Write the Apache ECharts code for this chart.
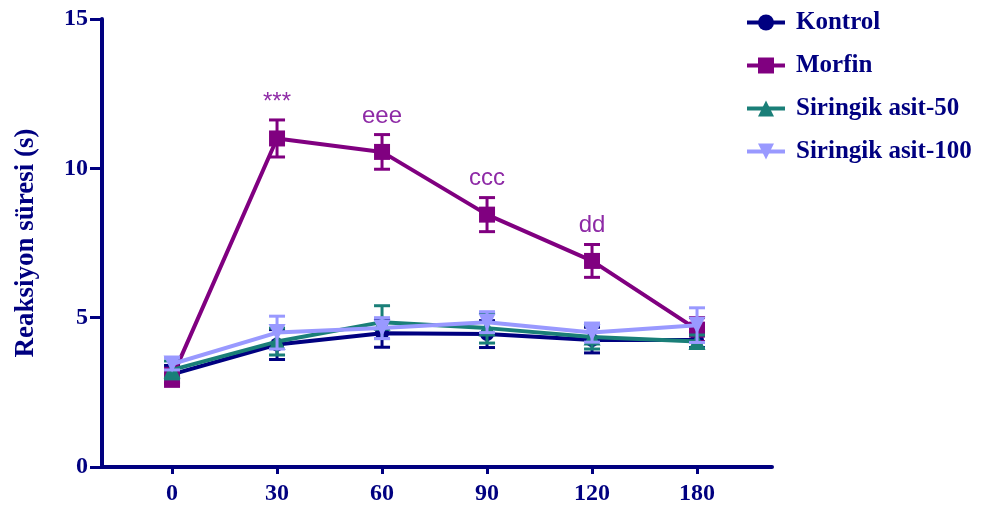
<!DOCTYPE html>
<html><head><meta charset="utf-8">
<script src="https://cdn.jsdelivr.net/npm/echarts@6/dist/echarts.min.js"></script>
<style>html,body{margin:0;padding:0;background:#fff}#c{width:981px;height:513px}</style>
</head><body><div id="c"></div>
<script>
const categories = ['0', '30', '60', '90', '120', '180'];
const seriesNames = ['Kontrol', 'Morfin', 'Siringik asit-50', 'Siringik asit-100'];
const kontrol = [3.1, 4.1, 4.48, 4.45, 4.25, 4.25];
const kontrolErr = [0.3, 0.5, 0.47, 0.45, 0.43, 0.25];
const morfin = [3.0, 11.0, 10.55, 8.45, 6.9, 4.6];
const morfinErr = [0.3, 0.62, 0.58, 0.57, 0.55, 0.4];
const sa50 = [3.25, 4.2, 4.85, 4.65, 4.35, 4.2];
const sa50Err = [0.3, 0.45, 0.55, 0.5, 0.4, 0.22];
const sa100 = [3.45, 4.5, 4.65, 4.85, 4.5, 4.75];
const sa100Err = [0.2, 0.55, 0.35, 0.35, 0.32, 0.58];
const morfinMarks = ['', '***', 'eee', 'ccc', 'dd', ''];
const yTicks = [0, 5, 10, 15];

const NAVY = '#000080';
const colors = ['#000080', '#800080', '#1a7f78', '#9999ff'];
const symbols = ['circle', 'rect', 'triangle', 'path://M0,0 L10,0 L5,10 Z'];
const symSizes = [14, 16, 17, 17];
const vals = [kontrol, morfin, sa50, sa100];
const errs = [kontrolErr, morfinErr, sa50Err, sa100Err];
const serif = '"Liberation Serif", "DejaVu Serif", serif';

const chart = echarts.init(document.getElementById('c'));
const series = [];
vals.forEach((v, si) => {
  series.push({
    type: 'custom', name: seriesNames[si] + ' (SEM)', silent: true,
    color: colors[si],
    renderItem: function (params, api) {
      const x = api.value(0), y = api.value(1), e = api.value(2);
      const top = api.coord([x, y + e]);
      const bot = api.coord([x, y - e]);
      const hw = 8;
      const st = { stroke: colors[si], lineWidth: 3 };
      return { type: 'group', children: [
        { type: 'line', shape: { x1: top[0], y1: top[1], x2: bot[0], y2: bot[1] }, style: st },
        { type: 'line', shape: { x1: top[0] - hw, y1: top[1], x2: top[0] + hw, y2: top[1] }, style: st },
        { type: 'line', shape: { x1: bot[0] - hw, y1: bot[1], x2: bot[0] + hw, y2: bot[1] }, style: st }
      ]};
    },
    data: v.map((y, i) => [i, y, errs[si][i]]),
    z: 2 + si * 2
  });
  series.push({
    type: 'line', name: seriesNames[si], color: colors[si],
    data: v.map((y, i) => {
      const d = { value: [i, y] };
      if (si === 1 && morfinMarks[i]) {
        d.label = { show: true, formatter: morfinMarks[i], position: 'top', distance: 16,
          color: '#8e2aa6', fontSize: 24, fontFamily: '"Liberation Sans", Arial, sans-serif' };
      }
      return d;
    }),
    symbol: symbols[si], symbolSize: symSizes[si], showAllSymbol: true,
    lineStyle: { color: colors[si], width: 4 },
    itemStyle: { color: colors[si], opacity: 1 },
    label: { show: false },
    emphasis: { disabled: true },
    z: 3 + si * 2
  });
});

chart.setOption({
  animation: false,
  grid: { left: 102, right: 209, top: 19, bottom: 46, containLabel: false },
  legend: {
    orient: 'vertical', left: 740, top: 5, itemWidth: 38, itemHeight: 20, itemGap: 18,
    data: seriesNames,
    lineStyle: { width: 4 },
    textStyle: { color: NAVY, fontSize: 25, fontWeight: 'bold', fontFamily: serif, padding: [0, 0, 0, 6] },
    selectedMode: false
  },
  xAxis: {
    type: 'value', min: -0.667, max: 5.714,
    splitLine: { show: false },
    axisLine: { onZero: false, lineStyle: { color: NAVY, width: 4 } },
    axisTick: { show: true, length: 7, lineStyle: { color: NAVY, width: 3 }, customValues: [0, 1, 2, 3, 4, 5] },
    axisLabel: { customValues: [0, 1, 2, 3, 4, 5], formatter: v => categories[Math.round(v)],
      color: NAVY, fontSize: 24, fontWeight: 'bold', fontFamily: serif, margin: 15 }
  },
  yAxis: {
    type: 'value', min: 0, max: 15, interval: 5,
    name: 'Reaksiyon süresi (s)', nameLocation: 'middle', nameGap: 62, nameRotate: 90,
    nameTextStyle: { color: NAVY, fontSize: 27, fontWeight: 'bold', fontFamily: serif },
    splitLine: { show: false },
    axisLine: { show: true, onZero: false, lineStyle: { color: NAVY, width: 4 } },
    axisTick: { show: true, length: 12, lineStyle: { color: NAVY, width: 3 } },
    axisLabel: { color: NAVY, fontSize: 24, fontWeight: 'bold', fontFamily: serif, margin: 14,
      formatter: v => yTicks.includes(v) ? String(v) : '' }
  },
  series: series
});
</script></body></html>
